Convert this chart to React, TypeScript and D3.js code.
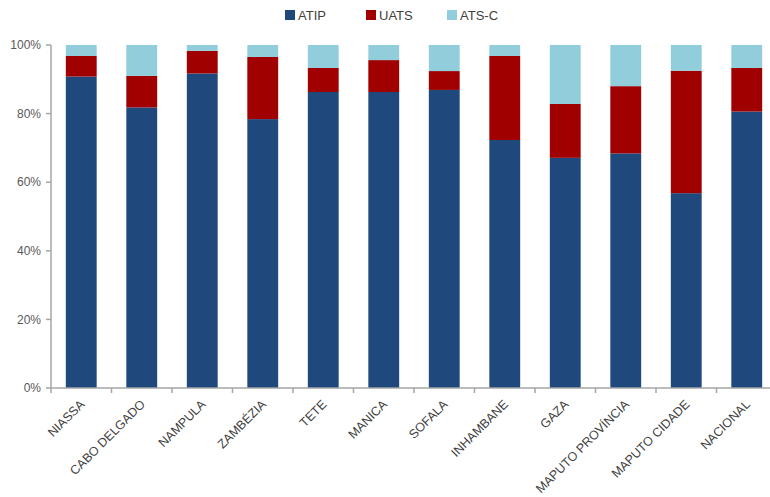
import React from "react";
import * as d3 from "d3";

const categories = ["NIASSA", "CABO DELGADO", "NAMPULA", "ZAMBÉZIA", "TETE", "MANICA", "SOFALA", "INHAMBANE", "GAZA", "MAPUTO PROVÍNCIA", "MAPUTO CIDADE", "NACIONAL"];
const atip = [90.8, 81.8, 91.7, 78.4, 86.3, 86.3, 86.9, 72.3, 67.1, 68.4, 56.8, 80.6];
const uats = [6.0, 9.2, 6.6, 18.1, 7.0, 9.3, 5.5, 24.5, 15.7, 19.6, 35.7, 12.7];
const atsc = [3.2, 9.0, 1.7, 3.5, 6.7, 4.4, 7.6, 3.2, 17.2, 12.0, 7.5, 6.7];
const seriesNames = ["ATIP", "UATS", "ATS-C"];
const colors = ["#1F497D", "#A00000", "#92CDDC"];
const yTicks = [0, 20, 40, 60, 80, 100];

export default function App() {
  const W = 770, H = 497;
  const left = 51, right = 777, top = 45, bottom = 388;
  const x = d3.scaleBand().domain(categories).range([left, right]).paddingInner(0.49).paddingOuter(0.245);
  const y = d3.scaleLinear().domain([0, 100]).range([bottom, top]);
  const rows = categories.map((c, i) => ({ cat: c, ATIP: atip[i], UATS: uats[i], "ATS-C": atsc[i] }));
  const stack = d3.stack<any>().keys(seriesNames)(rows);
  const step = (right - left) / categories.length;
  const font = "'Liberation Sans', Arial, sans-serif";
  const legendX = [285, 366, 447];
  return (
    <svg width={W} height={H} style={{ position: "absolute", left: 0, top: 0, background: "#fff" }} fontFamily={font}>
      {stack.map((s, si) => (
        <g key={si} fill={colors[si]}>
          {s.map((d, i) => (
            <rect key={i} x={x(categories[i])!} width={x.bandwidth()} y={y(d[1])} height={y(d[0]) - y(d[1])} />
          ))}
        </g>
      ))}
      <line x1={left} x2={left} y1={top} y2={bottom} stroke="#A6A6A6" strokeWidth={1.5} />
      <line x1={left} x2={right} y1={bottom} y2={bottom} stroke="#A6A6A6" strokeWidth={1.5} />
      {yTicks.map((t) => (
        <g key={t}>
          <line x1={left - 5} x2={left} y1={y(t)} y2={y(t)} stroke="#A6A6A6" strokeWidth={1.5} />
          <text x={left - 10} y={y(t)} dy="0.35em" textAnchor="end" fontSize={12} fill="#595959">{t}%</text>
        </g>
      ))}
      {d3.range(categories.length + 1).map((i) => (
        <line key={i} x1={left + i * step} x2={left + i * step} y1={bottom} y2={bottom + 5} stroke="#A6A6A6" strokeWidth={1.5} />
      ))}
      {categories.map((c) => {
        const cx = x(c)! + x.bandwidth() / 2;
        return (
          <text key={c} transform={`translate(${cx + 1},${bottom + 14}) rotate(-45)`} textAnchor="end" dy="0.35em" fontSize={12.5} fill="#404040">{c}</text>
        );
      })}
      {seriesNames.map((n, i) => (
        <g key={n}>
          <rect x={legendX[i]} y={10} width={10} height={10} fill={colors[i]} />
          <text x={legendX[i] + 13} y={15} dy="0.35em" fontSize={13} fill="#404040">{n}</text>
        </g>
      ))}
    </svg>
  );
}
